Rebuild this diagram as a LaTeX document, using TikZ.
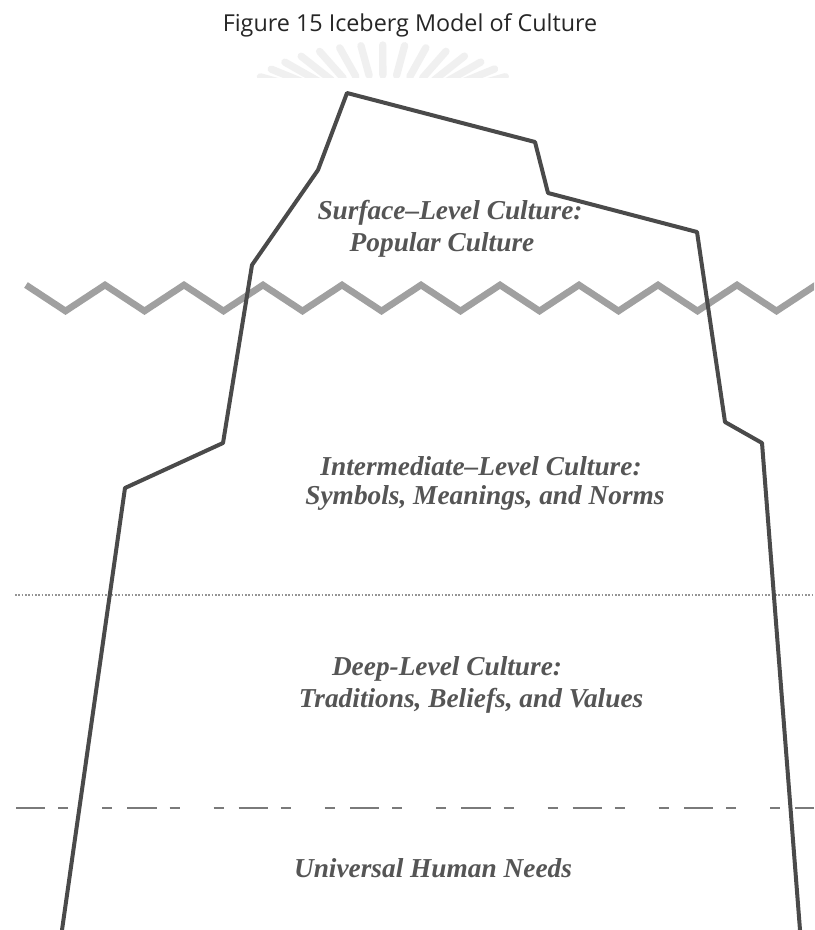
\documentclass[tikz,border=0pt]{standalone}
\usepackage{fontspec}
\setmainfont{Liberation Serif}
\newfontfamily\titlefont{Open Sans}
\definecolor{bergline}{HTML}{4A4A4A}
\definecolor{waveline}{HTML}{A0A0A0}
\definecolor{labeltext}{HTML}{555555}
\definecolor{levelline}{HTML}{7A7A7A}
\begin{document}
\begin{tikzpicture}[x=0.75pt,y=-0.75pt,
  berg/.style={draw=bergline,line width=3pt,line join=round,line cap=round},
  wave/.style={draw=waveline,line width=5pt,line join=miter},
  levellabel/.style={text=labeltext,font=\fontsize{20.5}{24}\selectfont\bfseries\itshape,inner sep=0pt,anchor=center},
  dotline/.style={draw=levelline!80,line width=1.2pt,dash pattern=on 1.2pt off 1.3pt},
  dashline/.style={draw=levelline,line width=2.2pt,dash pattern=on 22pt off 9.7pt on 7.5pt off 25.5pt on 7.5pt off 11.3pt,dash phase=0pt},
  ray/.style={draw=black!6,line width=5.5pt,line cap=round}]
\useasboundingbox (0,0) rectangle (814,930);
\fill[white] (0,0) rectangle (814,930);

% faint emblem behind the title: a fan of rays cut off along its lower edge
\begin{scope}
\clip (200,36) rectangle (620,78);
\foreach \a in {25,34.3,...,156}{
  \draw[ray] ({383+85*cos(\a)},{100-25*sin(\a)}) -- ({383+135*cos(\a)},{100-55*sin(\a)});
}
\end{scope}

% title
\node[font=\titlefont\fontsize{17.5}{20}\selectfont,text=black!85,anchor=center] (title) at (410,25) {Figure 15 Iceberg Model of Culture};

% water surface
\begin{scope}
\clip (0,250) rectangle (814,340);
\draw[wave] (26,285)
  \foreach \k in {1,...,20}{ -- ({26+39.5*\k},{285+26*mod(\k,2)}) };
\end{scope}

% level boundaries
\draw[dotline] (15,595) -- (814,595);
\draw[dashline] (16,808) -- (814,808);

% iceberg outline
\coordinate (bl) at (62,930);
\coordinate (br) at (800,930);
\draw[berg] (bl) -- (125,488) -- (223,443) -- (252,265) -- (318,170) -- (347,93)
  -- (535,142) -- (548,193) -- (697,232) -- (725,422) -- (762,443) -- (br);

% level labels
\node[levellabel] (surf1) at (450,213) {Surface–Level Culture:};
\node[levellabel] (surf2) at (442,245) {Popular Culture};
\node[levellabel] (mid1) at (481,466) {Intermediate–Level Culture:};
\node[levellabel] (mid2) at (485,498) {Symbols, Meanings, and Norms};
\node[levellabel] (deep1) at (447,669) {Deep-Level Culture:};
\node[levellabel] (deep2) at (471,701) {Traditions, Beliefs, and Values};
\node[levellabel] (needs) at (433,868) {Universal Human Needs};
\end{tikzpicture}
\end{document}
